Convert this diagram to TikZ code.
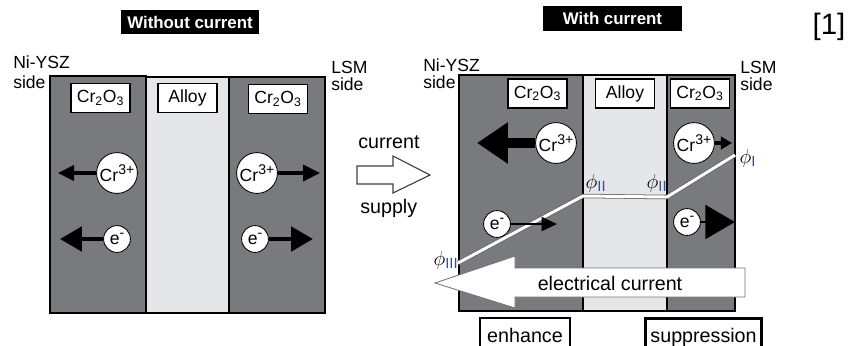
\documentclass[tikz,border=0pt]{standalone}
\usepackage{fontspec}
\setmainfont{Liberation Sans}
\usetikzlibrary{arrows.meta}
\definecolor{oxidegray}{RGB}{121,122,125}
\definecolor{alloygray}{RGB}{229,230,232}
\definecolor{phiblue}{RGB}{50,80,150}
\newcommand{\crion}{Cr\raisebox{0.42em}{\fontsize{10}{11}\selectfont 3+}}
\newcommand{\elec}{e\raisebox{0.42em}{\fontsize{10}{11}\selectfont -}}

\begin{document}
\begin{tikzpicture}[x=0.025cm, y=-0.025cm,
  labelbox/.style={draw=black, line width=1.2pt, fill=white, inner sep=0pt, minimum width=1.47cm, minimum height=0.73cm, font=\fontsize{12.5}{14}\selectfont},
  bignode/.style={circle, draw=black, line width=0.6pt, fill=white, inner sep=0pt, minimum size=1.02cm, font=\fontsize{12.5}{14}\selectfont},
  smallnode/.style={circle, draw=black, line width=0.6pt, fill=white, inner sep=0pt, minimum size=0.67cm, font=\fontsize{12.5}{14}\selectfont},
  sidetext/.style={anchor=base west, inner sep=0pt, font=\fontsize{12.5}{14}\selectfont},
  titlebox/.style={fill=black, text=white, inner sep=0pt, font=\bfseries\fontsize{12}{13}\selectfont},
  bigtext/.style={inner sep=0pt, font=\fontsize{14}{16}\selectfont},
  phinode/.style={inner sep=0pt, font=\fontsize{15}{16}\selectfont}
]
\useasboundingbox (0,0) rectangle (849,345);

%WITHOUT CURRENT
\filldraw[fill=oxidegray, draw=black, line width=1.2pt] (50,76) rectangle (146,313);
\filldraw[fill=alloygray, draw=black, line width=1.2pt] (146,77) rectangle (229,313);
\filldraw[fill=oxidegray, draw=black, line width=1.2pt] (229,77) rectangle (325,313);

\node[titlebox, minimum width=3.45cm, minimum height=0.6cm] (titleA) at (190,22) {Without current};
\node[sidetext] (nysA) at (13,68) {Ni-YSZ};
\node[sidetext] (nysAs) at (13,88) {side};
\node[sidetext] (lsmA) at (331,73) {LSM};
\node[sidetext] (lsmAs) at (331,90) {side};

\node[labelbox] (oxA) at (100.5,98) {Cr\textsubscript{2}O\textsubscript{3}};
\node[labelbox] (alloyA) at (187.5,98) {Alloy};
\node[labelbox] (oxB) at (278,99) {Cr\textsubscript{2}O\textsubscript{3}};

\node[bignode] (crA) at (117,173) {\crion};
\node[bignode] (crB) at (257,173) {\crion};
\node[smallnode] (eA) at (117,239) {\elec};
\node[smallnode] (eB) at (255,239) {\elec};

\coordinate (crAend) at (58,173);
\coordinate (crBend) at (320,173);
\coordinate (eAend) at (60,239);
\coordinate (eBend) at (313,239);
\draw[line width=2.2pt, -{Triangle[length=11.5pt, width=11pt]}] (crA) -- (crAend);
\draw[line width=2.2pt, -{Triangle[length=12pt, width=11.5pt]}] (crB) -- (crBend);
\draw[line width=3.5pt, -{Triangle[length=15.5pt, width=17pt]}] (eA) -- (eAend);
\draw[line width=3.5pt, -{Triangle[length=15.5pt, width=17pt]}] (eB) -- (eBend);

%CURRENT SUPPLY
\filldraw[fill=white, draw=black!75, line width=0.8pt] (357,166) -- (393,166) -- (393,156) -- (430,175) -- (393,193) -- (393,184) -- (357,184) -- cycle;
\node[bigtext, anchor=base west] (curtxt) at (358,148) {current};
\node[bigtext, anchor=base west] (suptxt) at (360,213) {supply};

%WITH CURRENT
\filldraw[fill=oxidegray, draw=black, line width=1.2pt] (459,75) rectangle (583,311);
\filldraw[fill=alloygray, draw=black, line width=1.2pt] (583,75) rectangle (667,311);
\filldraw[fill=oxidegray, draw=black, line width=1.2pt] (667,75) rectangle (735,311);

\node[titlebox, minimum width=3.475cm, minimum height=0.625cm] (titleB) at (612.5,18.5) {With current};
\node[bigtext, font=\fontsize{21}{24}\selectfont] (refno) at (829,27) {[1]};
\node[sidetext] (nysB) at (423,71) {Ni-YSZ};
\node[sidetext] (nysBs) at (423,88) {side};
\node[sidetext] (lsmB) at (740,73) {LSM};
\node[sidetext] (lsmBs) at (740,90) {side};

\node[labelbox] (oxC) at (537.5,93.5) {Cr\textsubscript{2}O\textsubscript{3}};
\node[labelbox] (alloyB) at (625,93.5) {Alloy};
\node[labelbox] (oxD) at (700,93.5) {Cr\textsubscript{2}O\textsubscript{3}};

%potential profile
\coordinate (pIII) at (458,263);
\coordinate (pIIa) at (583,196);
\coordinate (pIIb) at (667,197);
\coordinate (pI) at (735,155);
\draw[black!60, line width=3.2pt] (pIII) -- (pIIa) -- (pIIb) -- (pI);
\draw[white, line width=2.1pt] (pIII) -- (pIIa) -- (pIIb) -- (pI);
\node[phinode] (phiI) at (748,158) {$\phi$\textsubscript{\color{phiblue}I}};
\node[phinode] (phiIIa) at (596,183) {$\phi$\textsubscript{\color{phiblue}II}};
\node[phinode] (phiIIb) at (657,183) {$\phi$\textsubscript{\color{phiblue}II}};
\node[phinode] (phiIII) at (446,260) {$\phi$\textsubscript{\color{phiblue}III}};

\node[bignode] (crC) at (556,143) {\crion};
\node[bignode] (crD) at (694,143) {\crion};
\node[smallnode] (eC) at (497,224) {\elec};
\node[smallnode] (eD) at (687,222) {\elec};

\coordinate (crCend) at (477,143);
\coordinate (crDend) at (732,143);
\coordinate (eCend) at (557,224);
\coordinate (eDend) at (735,222);
\draw[line width=7pt, -{Triangle[length=22pt, width=28pt]}] (crC) -- (crCend);
\draw[line width=2.2pt, -{Triangle[length=8pt, width=9pt]}] (crD) -- (crDend);
\draw[line width=1.5pt, -{Triangle[length=11pt, width=10pt]}] (eC) -- (eCend);
\draw[line width=1.5pt, -{Triangle[length=21pt, width=24pt]}] (eD) -- (eDend);

%ELECTRICAL CURRENT
\filldraw[fill=white, draw=black!55, line width=0.6pt] (745,268) -- (515,268) -- (515,256) -- (435,283) -- (515,308) -- (515,297) -- (745,297) -- cycle;
\node[bigtext] (eltxt) at (610,283) {electrical current};

\node[bigtext, draw=black, line width=1.4pt, fill=white, anchor=north west, minimum width=2.25cm, inner ysep=7pt] (enh) at (479,317) {enhance};
\node[bigtext, draw=black, line width=2.2pt, fill=white, anchor=north west, minimum width=2.9cm, inner ysep=7pt] (supp) at (644,317) {suppression};

\end{tikzpicture}
\end{document}
